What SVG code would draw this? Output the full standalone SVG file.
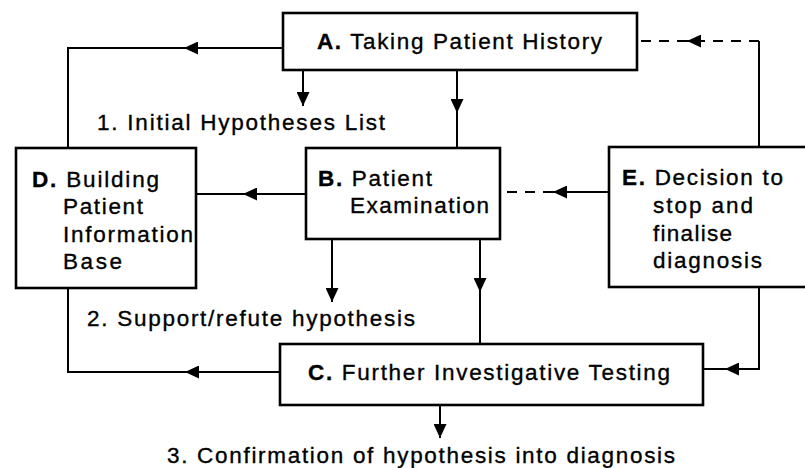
<svg xmlns="http://www.w3.org/2000/svg" width="805" height="468" viewBox="0 0 805 468">
<style>
.box{fill:#fff;stroke:#000;stroke-width:2.6}
.ln{fill:none;stroke:#000;stroke-width:2}
.dash{stroke-dasharray:10 8}
.t{font-family:"Liberation Sans",Arial,Helvetica,sans-serif;font-size:22.5px;fill:#000;stroke:#000;stroke-width:0.35}
.b{font-weight:bold}
</style>
<defs>
<marker id="ah" markerUnits="userSpaceOnUse" markerWidth="14" markerHeight="13" refX="14" refY="6.5" orient="auto" viewBox="0 0 14 13">
<path d="M0,0 L14,6.5 L0,13 z" fill="#000"/>
</marker>
</defs>
<rect width="805" height="468" fill="#fff"/>
<g id="connectors">
<path class="ln" d="M283,48 L184,48" marker-end="url(#ah)"/>
<path class="ln" d="M186,48 L68,48 L68,149"/>
<path class="ln" d="M303,70 L303,106" marker-end="url(#ah)"/>
<path class="ln" d="M457,70 L457,113" marker-end="url(#ah)"/>
<path class="ln" d="M457,110 L457,148"/>
<path class="ln" d="M306,194 L243,194" marker-end="url(#ah)"/>
<path class="ln" d="M245,194 L196,194"/>
<path class="ln" d="M609,192 L553,192" marker-end="url(#ah)"/>
<path class="ln dash" d="M553,192 L500,192"/>
<path class="ln" d="M759,147 L759,41"/>
<path class="ln dash" d="M759,41 L700,41"/>
<path class="ln" d="M701,41 L687,41" marker-end="url(#ah)"/>
<path class="ln dash" d="M687,41 L637,41"/>
<path class="ln" d="M332,239 L332,302" marker-end="url(#ah)"/>
<path class="ln" d="M480,239 L480,292" marker-end="url(#ah)"/>
<path class="ln" d="M480,290 L480,344"/>
<path class="ln" d="M280,372 L185,372" marker-end="url(#ah)"/>
<path class="ln" d="M187,372 L68,372 L68,288"/>
<path class="ln" d="M759,287 L759,369 L725,369" marker-end="url(#ah)"/>
<path class="ln" d="M727,369 L703,369"/>
<path class="ln" d="M440,405 L440,438" marker-end="url(#ah)"/>
</g>
<g id="nodeA">
<rect class="box" x="283" y="13" width="354" height="57"/>
<text class="t" x="317" y="49" textLength="285" lengthAdjust="spacing"><tspan class="b">A.</tspan> Taking Patient History</text>
</g>
<g id="nodeB">
<rect class="box" x="306" y="148" width="194" height="91"/>
<text class="t" x="318" y="186" textLength="114" lengthAdjust="spacing"><tspan class="b">B.</tspan> Patient</text>
<text class="t" x="350" y="213" textLength="139" lengthAdjust="spacing">Examination</text>
</g>
<g id="nodeD">
<rect class="box" x="16" y="148" width="180" height="140"/>
<text class="t" x="32" y="187" textLength="127" lengthAdjust="spacing"><tspan class="b">D.</tspan> Building</text>
<text class="t" x="63" y="214" textLength="80" lengthAdjust="spacing">Patient</text>
<text class="t" x="63" y="242" textLength="130" lengthAdjust="spacing">Information</text>
<text class="t" x="63" y="269" textLength="59" lengthAdjust="spacing">Base</text>
</g>
<g id="nodeE">
<rect class="box" x="609" y="147" width="205" height="140"/>
<text class="t" x="622" y="185" textLength="161" lengthAdjust="spacing"><tspan class="b">E.</tspan> Decision to</text>
<text class="t" x="653" y="213" textLength="100" lengthAdjust="spacing">stop and</text>
<text class="t" x="653" y="241" textLength="79" lengthAdjust="spacing">finalise</text>
<text class="t" x="653" y="268" textLength="109" lengthAdjust="spacing">diagnosis</text>
</g>
<g id="nodeC">
<rect class="box" x="280" y="344" width="423" height="61"/>
<text class="t" x="308" y="380" textLength="362" lengthAdjust="spacing"><tspan class="b">C.</tspan> Further Investigative Testing</text>
</g>
<g id="labels">
<text class="t" x="97" y="130" textLength="288" lengthAdjust="spacing">1. Initial Hypotheses List</text>
<text class="t" x="87" y="326" textLength="328" lengthAdjust="spacing">2. Support/refute hypothesis</text>
<text class="t" x="167" y="463" textLength="508" lengthAdjust="spacing">3. Confirmation of hypothesis into diagnosis</text>
</g>
</svg>
